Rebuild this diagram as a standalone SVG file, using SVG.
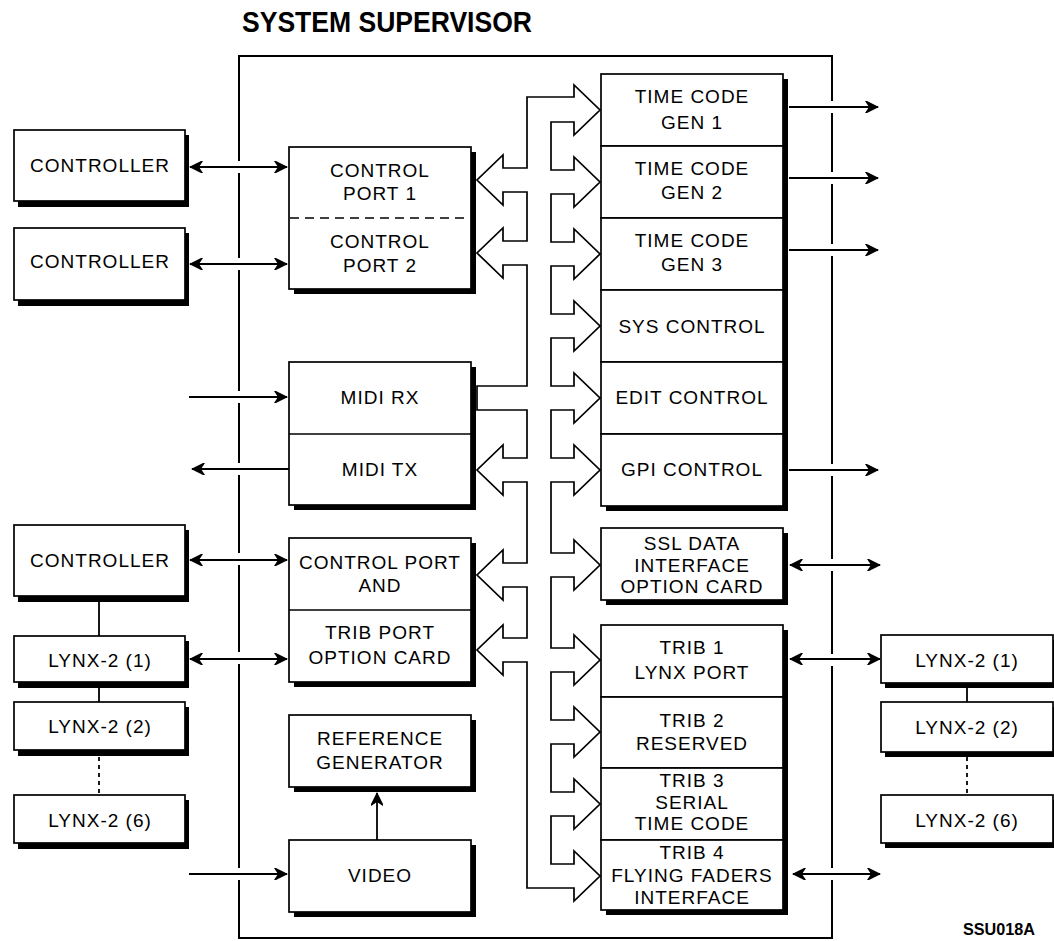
<svg xmlns="http://www.w3.org/2000/svg" width="1054" height="941" viewBox="0 0 1054 941">
<style>
.box{fill:#fff;stroke:#000;stroke-width:1.7}
.sh{fill:#000}
.t{font-family:"Liberation Sans",Arial,sans-serif;font-size:19px;letter-spacing:1px;text-anchor:middle;fill:#000}
.ln{stroke:#000;stroke-width:1.8;fill:none}
.dv{stroke:#000;stroke-width:1.7}
.bus{fill:#fff;stroke:#000;stroke-width:1.7;stroke-linejoin:miter}
.frame{fill:none;stroke:#000;stroke-width:2}
</style>
<defs>
<marker id="ah" viewBox="0 0 14 12" refX="13" refY="6" markerWidth="14" markerHeight="12" markerUnits="userSpaceOnUse" orient="auto-start-reverse">
<path d="M0,0 L2,0 L14,6 L2,12 L0,12 L4,6 z" fill="#000"/>
</marker>
</defs>
<rect x="0" y="0" width="1054" height="941" fill="#fff"/>

<g id="system-supervisor">
<text x="242" y="32" font-family="Liberation Sans,Arial,sans-serif" font-weight="bold" font-size="29" textLength="290" lengthAdjust="spacingAndGlyphs">SYSTEM SUPERVISOR</text>
<path class="frame" d="M832,101 V56 H239 V161 M239,173 V258 M239,270 V391 M239,403 V463 M239,475 V553 M239,565 V652 M239,664 V868 M239,880 V938 H832 V880 M832,868 V666 M832,654 V571 M832,559 V476 M832,464 V256 M832,244 V184 M832,172 V113"/>
</g>

<g id="controller-1"><rect class="sh" x="18" y="135" width="171" height="72"/><rect class="box" x="14" y="130" width="171" height="71"/><text class="t" x="100" y="172">CONTROLLER</text></g>
<g id="controller-2"><rect class="sh" x="18" y="233" width="171" height="73"/><rect class="box" x="14" y="228" width="171" height="72"/><text class="t" x="100" y="268">CONTROLLER</text></g>
<g id="controller-3"><rect class="sh" x="18" y="530" width="171" height="72"/><rect class="box" x="14" y="525" width="171" height="71"/><text class="t" x="100" y="567">CONTROLLER</text></g>
<g id="lynx-left-1"><rect class="sh" x="18" y="641" width="171" height="47"/><rect class="box" x="14" y="636" width="171" height="46"/><text class="t" x="100" y="667">LYNX-2 (1)</text></g>
<g id="lynx-left-2"><rect class="sh" x="18" y="707" width="171" height="49"/><rect class="box" x="14" y="702" width="171" height="48"/><text class="t" x="100" y="733">LYNX-2 (2)</text></g>
<g id="lynx-left-6"><rect class="sh" x="18" y="800" width="171" height="49"/><rect class="box" x="14" y="795" width="171" height="48"/><text class="t" x="100" y="827">LYNX-2 (6)</text></g>

<g id="control-ports"><rect class="sh" x="294" y="152" width="182" height="142"/><rect class="box" x="289" y="147" width="182" height="142"/>
<line class="dv" x1="290" y1="218" x2="470" y2="218" stroke-dasharray="9 6"/>
<text class="t" x="380" y="177">CONTROL</text><text class="t" x="380" y="200">PORT 1</text>
<text class="t" x="380" y="248">CONTROL</text><text class="t" x="380" y="272">PORT 2</text></g>

<g id="midi"><rect class="sh" x="294" y="367" width="182" height="143"/><rect class="box" x="289" y="362" width="182" height="143"/>
<line class="dv" x1="289" y1="434" x2="471" y2="434"/>
<text class="t" x="380" y="404">MIDI RX</text><text class="t" x="380" y="476">MIDI TX</text></g>

<g id="control-trib-port"><rect class="sh" x="294" y="543" width="182" height="144"/><rect class="box" x="289" y="538" width="182" height="144"/>
<line class="dv" x1="289" y1="610" x2="471" y2="610"/>
<text class="t" x="380" y="569">CONTROL PORT</text><text class="t" x="380" y="592">AND</text>
<text class="t" x="380" y="639">TRIB PORT</text><text class="t" x="380" y="664">OPTION CARD</text></g>

<g id="reference-generator"><rect class="sh" x="294" y="720" width="182" height="72"/><rect class="box" x="289" y="715" width="182" height="72"/>
<text class="t" x="380" y="745">REFERENCE</text><text class="t" x="380" y="769">GENERATOR</text></g>

<g id="video"><rect class="sh" x="294" y="845" width="182" height="72"/><rect class="box" x="289" y="840" width="182" height="72"/>
<text class="t" x="380" y="882">VIDEO</text></g>

<g id="timecode-block"><rect class="sh" x="606" y="79" width="182" height="432"/>
<g id="tc-gen-1"><rect class="box" x="601" y="74" width="182" height="72"/><text class="t" x="692" y="103">TIME CODE</text><text class="t" x="692" y="129">GEN 1</text></g>
<g id="tc-gen-2"><rect class="box" x="601" y="146" width="182" height="72"/><text class="t" x="692" y="175">TIME CODE</text><text class="t" x="692" y="199">GEN 2</text></g>
<g id="tc-gen-3"><rect class="box" x="601" y="218" width="182" height="72"/><text class="t" x="692" y="247">TIME CODE</text><text class="t" x="692" y="271">GEN 3</text></g>
<g id="sys-control"><rect class="box" x="601" y="290" width="182" height="72"/><text class="t" x="692" y="333">SYS CONTROL</text></g>
<g id="edit-control"><rect class="box" x="601" y="362" width="182" height="72"/><text class="t" x="692" y="404">EDIT CONTROL</text></g>
<g id="gpi-control"><rect class="box" x="601" y="434" width="182" height="72"/><text class="t" x="692" y="476">GPI CONTROL</text></g>
</g>

<g id="ssl-data"><rect class="sh" x="606" y="533" width="182" height="72"/><rect class="box" x="601" y="528" width="182" height="72"/>
<text class="t" x="692" y="550">SSL DATA</text><text class="t" x="692" y="572">INTERFACE</text><text class="t" x="692" y="593">OPTION CARD</text></g>

<g id="trib-block"><rect class="sh" x="606" y="630" width="182" height="285"/>
<g id="trib-1"><rect class="box" x="601" y="625" width="182" height="72"/><text class="t" x="692" y="654">TRIB 1</text><text class="t" x="692" y="679">LYNX PORT</text></g>
<g id="trib-2"><rect class="box" x="601" y="697" width="182" height="71"/><text class="t" x="692" y="727">TRIB 2</text><text class="t" x="692" y="750">RESERVED</text></g>
<g id="trib-3"><rect class="box" x="601" y="768" width="182" height="72"/><text class="t" x="692" y="787">TRIB 3</text><text class="t" x="692" y="809">SERIAL</text><text class="t" x="692" y="830">TIME CODE</text></g>
<g id="trib-4"><rect class="box" x="601" y="840" width="182" height="70"/><text class="t" x="692" y="859">TRIB 4</text><text class="t" x="692" y="882">FLYING FADERS</text><text class="t" x="692" y="904">INTERFACE</text></g>
</g>

<g id="lynx-right-1"><rect class="sh" x="885" y="640" width="172" height="48"/><rect class="box" x="881" y="635" width="172" height="48"/><text class="t" x="967" y="667">LYNX-2 (1)</text></g>
<g id="lynx-right-2"><rect class="sh" x="885" y="707" width="172" height="50"/><rect class="box" x="881" y="702" width="172" height="50"/><text class="t" x="967" y="734">LYNX-2 (2)</text></g>
<g id="lynx-right-6"><rect class="sh" x="885" y="800" width="172" height="48"/><rect class="box" x="881" y="795" width="172" height="48"/><text class="t" x="967" y="827">LYNX-2 (6)</text></g>

<g id="connectors">
<polygon class="bus" points="527,97 574,97 574,85 600,110 574,135 574,122 551,122 551,170 574,170 574,157 600,182 574,207 574,194 551,194 551,242 574,242 574,229 600,254 574,279 574,266 551,266 551,314 574,314 574,301 600,326 574,351 574,338 551,338 551,386 574,386 574,373 600,398 574,423 574,410 551,410 551,458 574,458 574,445 600,470 574,495 574,482 551,482 551,553 574,553 574,540 600,565 574,590 574,577 551,577 551,648 574,648 574,635 600,660 574,685 574,672 551,672 551,720 574,720 574,707 600,732 574,757 574,744 551,744 551,792 574,792 574,779 600,804 574,829 574,816 551,816 551,864 574,864 574,851 600,876 574,901 574,888 527,888 527,662 503,662 503,675 477,650 503,625 503,638 527,638 527,587 503,587 503,600 477,575 503,550 503,563 527,563 527,482 503,482 503,495 477,470 503,445 503,458 527,458 527,410 477,410 477,386 527,386 527,265 503,265 503,278 477,253 503,228 503,241 527,241 527,192 503,192 503,205 477,180 503,155 503,168 527,168"/>
<path class="ln" d="M190,167 H287" marker-start="url(#ah)" marker-end="url(#ah)"/>
<path class="ln" d="M190,264 H287" marker-start="url(#ah)" marker-end="url(#ah)"/>
<path class="ln" d="M189,397 H287" marker-end="url(#ah)"/>
<path class="ln" d="M289,469 H192" marker-end="url(#ah)"/>
<path class="ln" d="M190,560 H287" marker-start="url(#ah)" marker-end="url(#ah)"/>
<path class="ln" d="M190,659 H287" marker-start="url(#ah)" marker-end="url(#ah)"/>
<path class="ln" d="M189,874 H287" marker-end="url(#ah)"/>
<path class="ln" d="M377,840 V793" marker-end="url(#ah)"/>
<path class="ln" d="M789,107 H878" marker-end="url(#ah)"/>
<path class="ln" d="M789,178 H878" marker-end="url(#ah)"/>
<path class="ln" d="M789,250 H878" marker-end="url(#ah)"/>
<path class="ln" d="M789,470 H878" marker-end="url(#ah)"/>
<path class="ln" d="M790,565 H880" marker-start="url(#ah)" marker-end="url(#ah)"/>
<path class="ln" d="M790,659 H880" marker-start="url(#ah)" marker-end="url(#ah)"/>
<path class="ln" d="M793,874 H880" marker-start="url(#ah)" marker-end="url(#ah)"/>
<path class="ln" d="M99,602 V636 M99,688 V702"/>
<path class="ln" d="M99,757 V795" stroke-dasharray="4 4"/>
<path class="ln" d="M967,688 V702"/>
<path class="ln" d="M967,757 V795" stroke-dasharray="4 4"/>
</g>

<text x="963" y="935" font-family="Liberation Sans,Arial,sans-serif" font-weight="bold" font-size="16" textLength="72" lengthAdjust="spacingAndGlyphs">SSU018A</text>
</svg>
